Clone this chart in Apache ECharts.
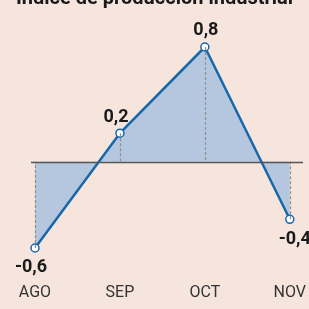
<!DOCTYPE html>
<html>
<head>
<meta charset="utf-8">
<script src="https://cdn.jsdelivr.net/npm/echarts@6/dist/echarts.min.js"></script>
<style>
  html, body { margin: 0; padding: 0; background: #f5e5dc; }
  #chart { width: 309px; height: 309px; }
</style>
</head>
<body>
<div id="chart"></div>
<script>
// datos
const months = ["AGO", "SEP", "OCT", "NOV"];
const values = [-0.6, 0.2, 0.8, -0.4];

const font = 'Roboto, "DejaVu Sans", sans-serif';

// posicion de cada etiqueta
const labelStyle = [
  { position: "bottom", offset: [-4, 1] },
  { position: "top", offset: [-4, 3] },
  { position: "top", offset: [1, 2] },
  { position: "bottom", offset: [5, 1] },
];

function fmt(v) {
  return v.toFixed(1).replace(".", ",");
}

const chart = echarts.init(document.getElementById("chart"));

const option = {
  backgroundColor: "#f5e5dc",
  animation: false,
  title: {
    text: "Índice de producción industrial",
    left: "center",
    top: -16,
    textStyle: { fontFamily: font, fontSize: 20, fontWeight: "bold", color: "#1a1a1a" },
  },
  grid: { left: 35, right: 16, top: 47, bottom: 61 },
  xAxis: {
    type: "category",
    data: months,
    boundaryGap: false,
    axisLine: { show: false },
    axisTick: { show: false },
    axisLabel: { margin: 37, fontFamily: font, fontSize: 16, color: "#333" },
  },
  yAxis: {
    type: "value",
    min: -0.6,
    max: 0.8,
    show: false,
  },
  series: [
    {
      type: "line",
      data: values.map((v, i) => ({
        value: v,
        label: labelStyle[i],
      })),
      lineStyle: { color: "#1767ab", width: 2.5 },
      areaStyle: { color: "#b5c7df", opacity: 1 },
      symbol: "circle",
      symbolSize: 8,
      itemStyle: { color: "#ffffff", borderColor: "#1767ab", borderWidth: 1.5 },
      label: {
        show: true,
        fontFamily: font,
        fontSize: 18,
        fontWeight: "bold",
        color: "#1a1a1a",
        formatter: (p) => fmt(p.value),
      },
      z: 3,
      markLine: {
        silent: true,
        symbol: "none",
        label: { show: false },
        data: values
          .map((v, i) => [
            { coord: [i, v], lineStyle: { color: "#8f8f8f", type: [3, 2], width: 1.2 } },
            { coord: [i, 0] },
          ])
          .concat([
            [
              { x: 31, yAxis: 0, lineStyle: { color: "#555", type: "solid", width: 1.3 } },
              { x: 303, yAxis: 0 },
            ],
          ]),
      },
    },
  ],
};

chart.setOption(option);
</script>
</body>
</html>
